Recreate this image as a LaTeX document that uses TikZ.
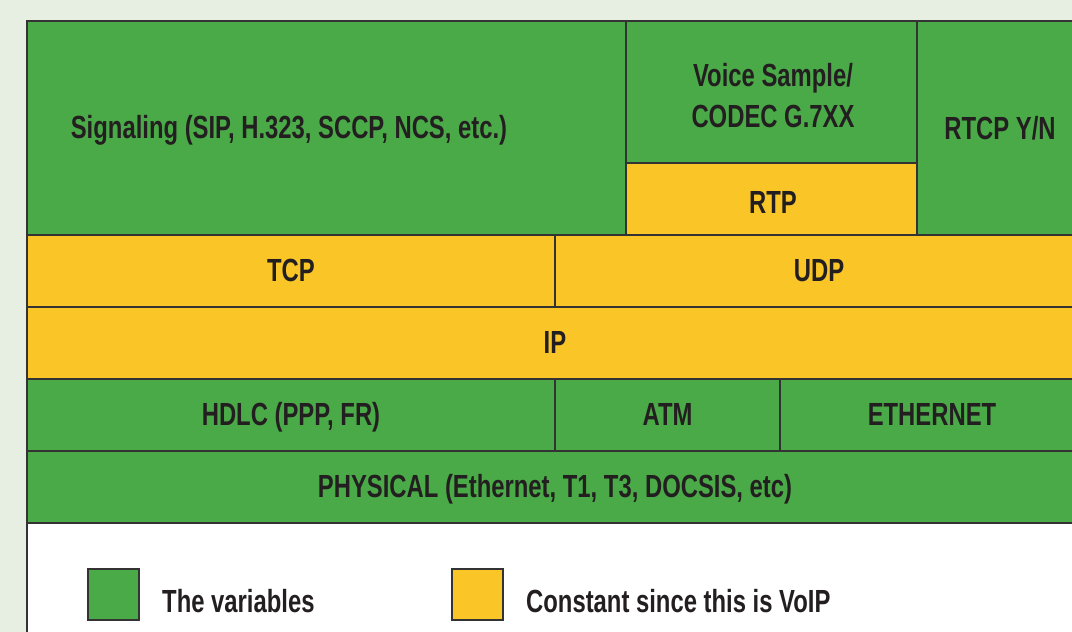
\documentclass[tikz,border=0pt]{standalone}
\usepackage{fontspec}
\newfontfamily\cond[FakeStretch=0.745]{Liberation Sans}
\definecolor{vgreen}{HTML}{4BAA48}
\definecolor{vyellow}{HTML}{F9C527}
\definecolor{bgc}{HTML}{E7EFE2}
\definecolor{ink}{HTML}{231F20}
\definecolor{rule}{HTML}{333333}
\tikzset{
  gcell/.style={fill=vgreen,draw=rule,line width=1.4pt},
  ycell/.style={fill=vyellow,draw=rule,line width=1.4pt},
  lbl/.style={anchor=base,inner sep=0pt,text=ink,font=\cond\bfseries\fontsize{32}{34}\selectfont,align=center},
}
\begin{document}
\begin{tikzpicture}[x=1pt,y=-1pt]
\useasboundingbox (0,0) rectangle (1072,632);
\clip (0,0) rectangle (1072,632);
\fill[bgc] (0,0) rectangle (1072,632);
\fill[white] (27,21) rectangle (1095,645);
% top row
\path[gcell] (27,21) rectangle (626,235);
\path[gcell] (626,21) rectangle (917,163);
\path[ycell] (626,163) rectangle (917,235);
\path[gcell] (917,21) rectangle (1095,235);
% transport
\path[ycell] (27,235) rectangle (555,307);
\path[ycell] (555,235) rectangle (1095,307);
% IP
\path[ycell] (27,307) rectangle (1095,379);
% link
\path[gcell] (27,379) rectangle (555,451);
\path[gcell] (555,379) rectangle (780,451);
\path[gcell] (780,379) rectangle (1095,451);
% physical
\path[gcell] (27,451) rectangle (1095,523);
\draw[rule,line width=1.6pt] (27,645) -- (27,21) -- (1095,21);
% labels
\node[lbl] (sig) at (289,138) {Signaling (SIP, H.323, SCCP, NCS, etc.)};
\node[lbl] (voice1) at (773,86) {Voice Sample/};
\node[lbl] (voice2) at (773,127) {CODEC G.7XX};
\node[lbl] (rtcp) at (1000,139) {RTCP Y/N};
\node[lbl] (rtp) at (773,213) {RTP};
\node[lbl] (tcp) at (291,281) {TCP};
\node[lbl] (udp) at (819,281) {UDP};
\node[lbl] (ip) at (555,353) {IP};
\node[lbl] (hdlc) at (291,425) {HDLC (PPP, FR)};
\node[lbl] (atm) at (667.5,425) {ATM};
\node[lbl] (eth) at (932,425) {ETHERNET};
\node[lbl] (phys) at (555,497) {PHYSICAL (Ethernet, T1, T3, DOCSIS, etc)};
% legend
\path[gcell,line width=1.2pt] (88,569) rectangle (139,620);
\path[ycell,line width=1.2pt] (452,569) rectangle (503,620);
\node[lbl,anchor=base west] (lvar) at (162,612) {The variables};
\node[lbl,anchor=base west] (lconst) at (526,612) {Constant since this is VoIP};
\end{tikzpicture}
\end{document}
